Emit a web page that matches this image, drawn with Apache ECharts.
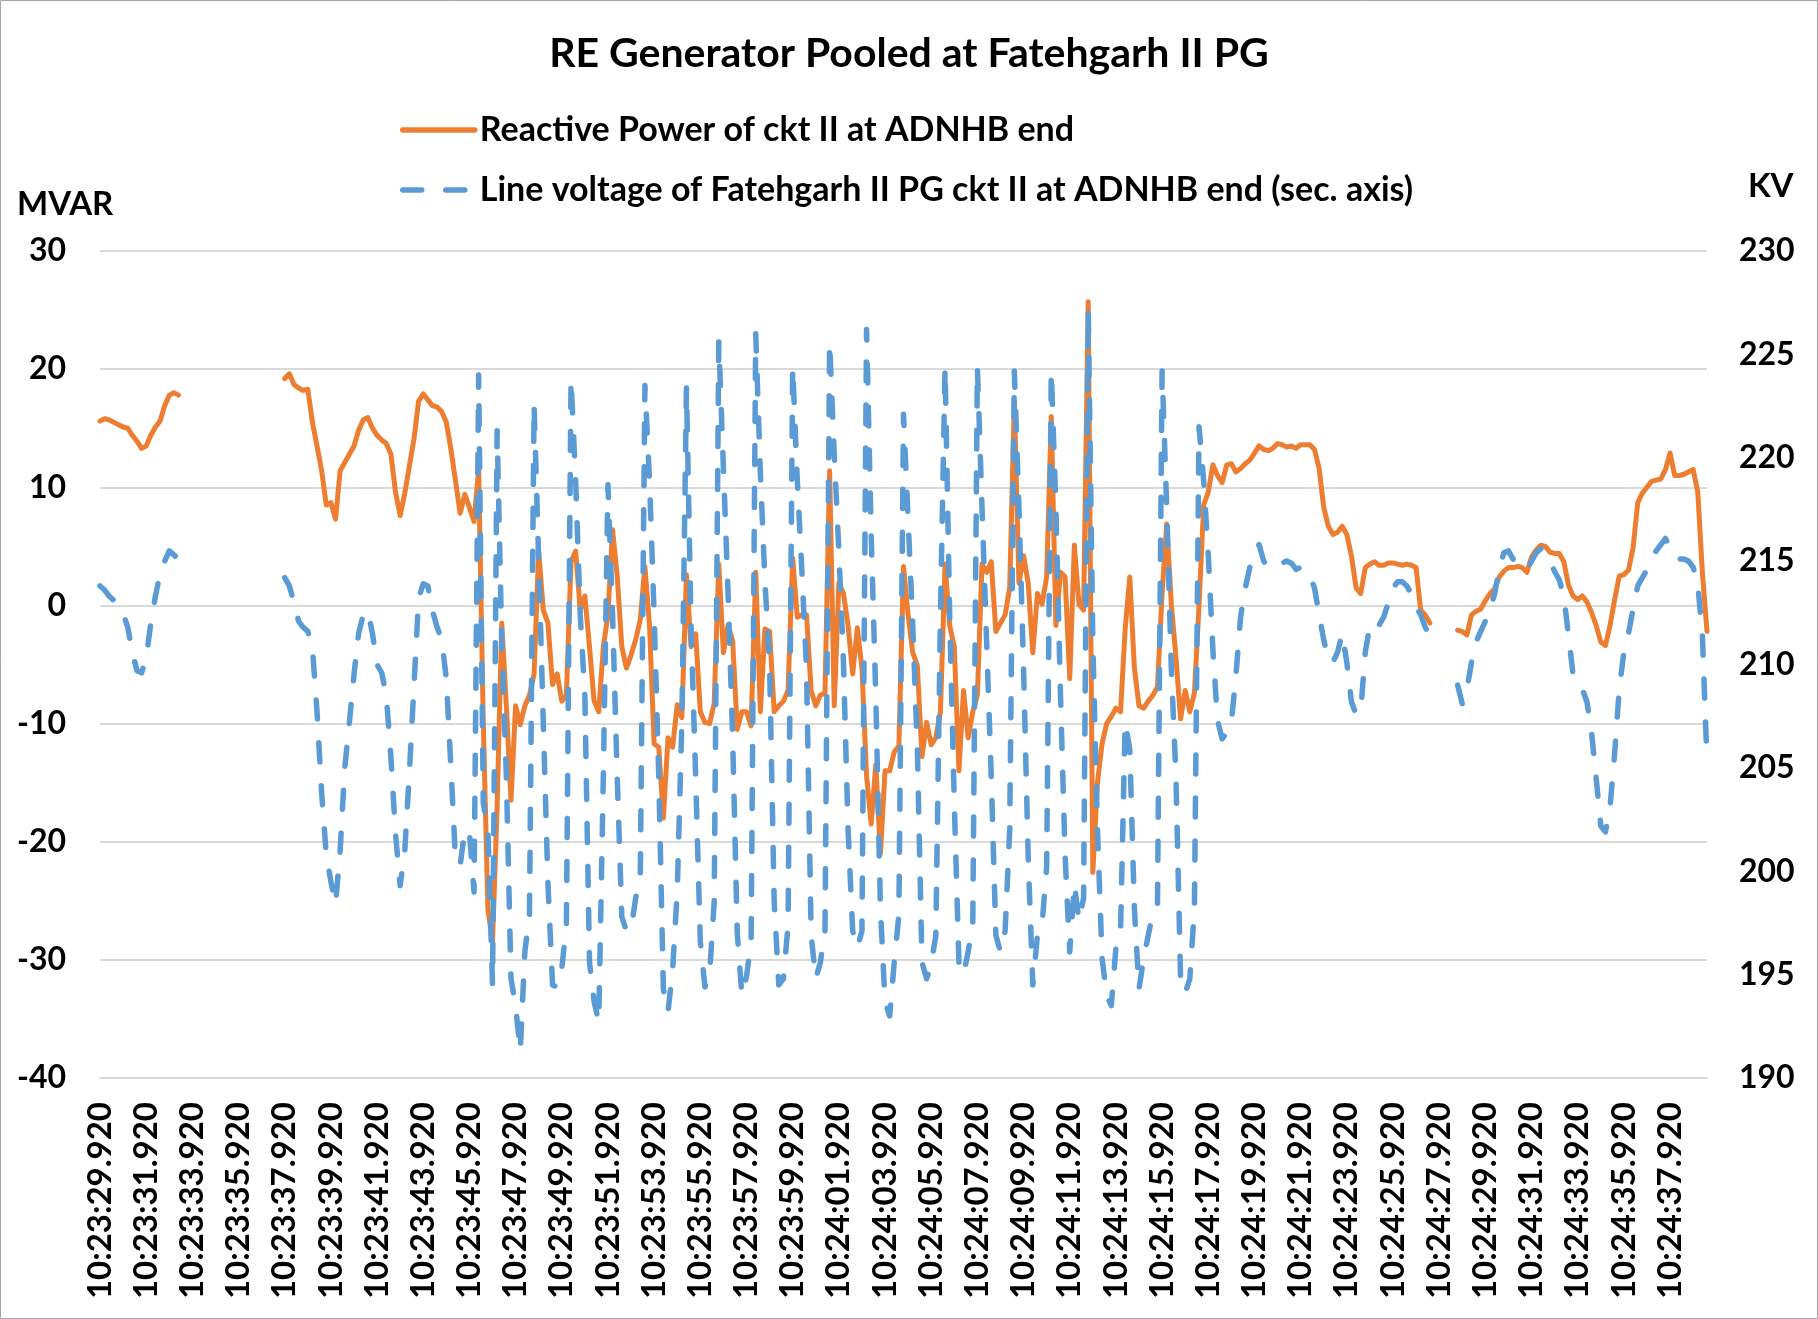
<!DOCTYPE html>
<html>
<head>
<meta charset="utf-8">
<script src="https://cdn.jsdelivr.net/npm/echarts@6/dist/echarts.min.js"></script>
<style>
html,body{margin:0;padding:0;background:#fff;}
#chart{width:1818px;height:1319px;}
</style>
</head>
<body>
<div id="chart"></div>
<script>
// ---------- DATA ----------
const titleText = 'RE Generator Pooled at Fatehgarh II PG';
const seriesNames = [
  'Reactive Power of ckt II at ADNHB end',
  'Line voltage of Fatehgarh II PG ckt II at ADNHB end (sec. axis)'
];
const leftAxisName = 'MVAR';
const rightAxisName = 'KV';
// time of first sample: 10:23:29.920, samples every 0.2 s
const startHour = 10, startMinute = 23, startMs = 29920, stepMs = 200;

// Reactive power (MVAR), left axis
const reactivePower = [
  15.6,15.8,15.7,15.5,15.3,15.1,15.0,14.4,13.9,13.3,
  13.5,14.4,15.1,15.6,16.9,17.8,18.0,17.8,null,null,
  null,null,null,null,null,null,null,null,null,null,
  null,null,null,null,null,null,null,null,null,null,
  19.2,19.6,18.7,18.4,18.2,18.3,15.5,13.5,11.4,8.5,
  8.7,7.3,11.4,12.1,12.8,13.5,14.8,15.7,15.9,15.0,
  14.4,14.0,13.7,12.8,9.6,7.6,9.5,11.8,14.1,17.3,
  17.9,17.4,16.9,16.8,16.4,15.5,13.2,10.5,7.8,9.4,
  8.3,7.1,11.5,-9.9,-25.7,-28.5,-17.0,-1.5,-8.5,-16.5,
  -8.5,-10.1,-8.5,-7.6,-5.8,4.6,-0.4,-1.5,-6.7,-5.8,
  -8.1,-7.6,3.7,4.6,-0.4,0.8,-3.5,-8.1,-9.0,-3.5,
  -0.8,6.4,2.5,-3.5,-5.3,-4.2,-2.9,-1.2,3.3,-1.7,
  -11.7,-12.0,-18.0,-11.2,-12.0,-8.4,-9.5,2.6,-3.5,-2.4,
  -9.0,-9.9,-10.0,-8.3,3.5,-4.0,-1.7,-3.0,-10.5,-9.0,
  -9.0,-10.2,2.8,-9.0,-2.0,-2.2,-9.0,-8.5,-8.1,-7.2,
  4.0,-1.0,-0.8,-0.8,-7.2,-8.5,-7.6,-7.4,11.4,-8.5,
  1.9,1.0,-1.7,-5.8,-1.9,-5.3,-14.4,-18.5,-13.5,-21.0,
  -14.0,-14.0,-12.4,-11.9,3.3,-0.8,-4.0,-5.1,-12.8,-9.9,
  -11.8,-11.2,-9.0,3.5,-1.7,-3.5,-14.0,-7.2,-11.2,-9.0,
  -7.6,3.5,2.8,3.7,-2.2,-1.5,-0.8,1.5,17.3,1.9,
  4.2,1.9,-4.0,1.0,0.1,2.4,16.0,-1.7,2.8,2.4,
  -6.2,5.1,0.1,-0.4,25.7,-22.6,-15.0,-11.7,-10.0,-9.4,
  -8.7,-9.0,-2.0,2.4,-5.3,-8.5,-8.7,-8.1,-7.6,-6.9,
  1.0,6.9,0.1,-4.4,-9.6,-7.2,-9.0,-7.4,0.0,8.5,
  9.6,11.9,11.0,10.4,11.9,12.0,11.3,11.6,12.0,12.3,
  12.9,13.5,13.2,13.1,13.3,13.7,13.6,13.4,13.5,13.3,
  13.6,13.6,13.6,13.2,11.6,8.3,6.7,6.0,6.2,6.7,
  6.0,4.2,1.5,1.0,3.2,3.5,3.7,3.4,3.4,3.6,
  3.6,3.5,3.4,3.5,3.4,3.2,-0.4,-0.8,-1.5,null,
  null,null,null,null,-2.1,-2.2,-2.5,-0.8,-0.5,-0.3,
  0.4,1.0,1.4,2.4,2.9,3.2,3.2,3.3,3.2,2.8,
  4.1,4.7,5.1,5.0,4.5,4.4,4.4,3.7,1.7,0.8,
  0.5,0.8,0.3,-0.6,-1.7,-3.1,-3.4,-1.7,0.5,2.5,
  2.6,3.0,4.9,8.7,9.5,10.0,10.5,10.6,10.7,11.5,
  12.9,11.0,11.0,11.1,11.3,11.5,9.6,2.8,-2.2
];

// Line voltage (KV), right axis
const lineVoltage = [
  213.8,213.6,213.3,213.1,212.8,212.5,211.8,210.6,209.7,209.6,
  210.3,212.0,213.3,214.4,215.0,215.5,215.3,215.1,null,null,
  null,null,null,null,null,null,null,null,null,null,
  null,null,null,null,null,null,null,null,null,null,
  214.2,213.8,213.0,212.1,211.8,211.6,210.8,207.7,203.8,200.8,
  199.5,198.4,201.0,205.0,207.2,209.5,211.5,212.4,212.6,211.5,
  210.0,209.6,208.5,205.5,201.8,199.3,201.0,204.8,209.0,213.2,
  213.9,213.8,212.6,211.8,211.2,209.3,205.0,200.5,200.3,202.0,
  201.9,199.0,224.0,203.3,202.0,194.5,221.3,211.1,204.6,194.8,
  193.5,191.3,196.1,197.9,222.6,215.0,207.2,199.4,194.5,194.4,
  195.3,197.4,223.8,218.9,212.4,208.5,195.6,193.7,192.7,204.6,
  218.7,212.4,204.6,197.8,197.1,197.2,198.7,199.7,223.5,218.9,
  212.4,204.6,194.3,193.2,195.2,199.0,207.2,223.4,211.8,204.5,
  196.6,194.4,195.0,198.5,225.6,219.5,213.5,206.5,197.0,194.0,
  194.9,196.6,226.0,219.3,214.0,210.0,198.5,194.5,194.8,197.4,
  224.4,218.9,214.5,209.8,196.9,194.8,195.6,197.1,225.6,220.2,
  215.5,210.1,202.0,197.1,196.3,197.1,226.2,216.3,208.5,198.2,
  193.7,193.0,195.6,197.9,222.1,217.0,211.9,205.9,195.6,194.8,
  195.5,196.9,212.4,224.4,212.4,203.3,195.6,195.0,196.1,197.4,
  224.4,217.6,211.1,204.6,196.9,196.1,197.1,202.0,224.2,217.6,
  209.8,200.7,194.5,196.9,197.4,200.2,224.2,217.6,208.5,200.7,
  196.1,199.4,197.6,198.7,227.2,211.1,202.0,195.8,194.0,193.5,
  196.3,197.1,207.2,205.9,198.2,194.3,195.8,196.9,198.0,198.4,
  224.2,217.6,209.8,204.6,194.8,194.1,194.8,198.2,221.5,218.9,
  215.3,210.7,207.3,206.4,206.7,207.2,209.5,212.3,213.7,214.7,
  215.4,215.8,215.0,214.7,214.7,214.9,214.9,215.0,214.9,214.6,
  214.7,214.6,214.3,213.7,212.4,211.2,210.2,210.1,210.6,211.5,
  210.1,208.2,207.6,207.7,210.6,211.9,212.1,211.9,212.3,213.0,
  213.7,214.0,214.0,213.8,213.4,212.8,212.4,211.8,211.4,null,
  null,null,null,null,209.0,208.1,208.8,210.1,211.1,211.6,
  212.1,212.7,213.4,214.6,215.4,215.5,215.1,215.0,214.9,214.6,
  215.0,215.4,215.6,215.3,215.0,214.5,214.1,213.3,211.4,209.5,
  209.1,208.8,208.2,206.7,204.5,202.2,201.9,203.1,205.7,208.8,
  210.6,211.5,212.7,213.8,214.2,214.6,215.1,215.5,215.8,216.1,
  215.6,215.2,215.1,215.1,215.0,214.7,213.9,211.4,205.3
];

// axis scales
const leftMin = -40, leftMax = 30, leftStep = 10;
const rightMin = 190, rightMax = 230, rightStep = 5;
const labelEvery = 10; // one label per 2 s

// ---------- BUILD ----------
function pad(n, w) { return String(n).padStart(w, '0'); }
const categories = reactivePower.map(function (_, i) {
  const ms = startMs + stepMs * i;
  const m = startMinute + Math.floor(ms / 60000);
  const rest = ms % 60000;
  return startHour + ':' + pad(m, 2) + ':' + pad(Math.floor(rest / 1000), 2) + '.' + pad(rest % 1000, 3);
});

const FONT = 'Lato, "Open Sans", "Liberation Sans", sans-serif';
const ORANGE = '#ED7D31', BLUE = '#5B9BD5', GRID = '#D9D9D9';

const chart = echarts.init(document.getElementById('chart'), null, { renderer: 'canvas' });
chart.setOption({
  animation: false,
  backgroundColor: '#ffffff',
  title: {
    text: titleText,
    left: 'center',
    top: 28,
    textStyle: { fontFamily: FONT, fontWeight: 'bold', fontSize: 41, color: '#000' }
  },
  legend: {
    orient: 'vertical',
    left: 395,
    top: 108,
    itemWidth: 72,
    itemHeight: 30,
    itemGap: 26,
    data: seriesNames,
    itemStyle: { opacity: 0 },
    lineStyle: { width: 5.5, cap: 'round' },
    textStyle: { fontFamily: FONT, fontWeight: 'bold', fontSize: 34, lineHeight: 34, color: '#000' }
  },
  grid: { left: 100, right: 111, top: 251, bottom: 241, containLabel: false },
  xAxis: {
    type: 'category',
    data: categories,
    boundaryGap: false,
    axisLine: { onZero: false, lineStyle: { color: GRID, width: 2 } },
    axisTick: { show: false },
    splitLine: { show: false },
    axisLabel: {
      interval: labelEvery - 1,
      rotate: 90,
      margin: 24,
      fontFamily: FONT, fontWeight: 'bold', fontSize: 33, color: '#000'
    }
  },
  yAxis: [
    {
      type: 'value', min: leftMin, max: leftMax, interval: leftStep,
      axisLine: { show: false }, axisTick: { show: false },
      splitLine: { lineStyle: { color: GRID, width: 2 } },
      axisLabel: { margin: 34, fontFamily: FONT, fontWeight: 'bold', fontSize: 32, color: '#000' }
    },
    {
      type: 'value', min: rightMin, max: rightMax, interval: rightStep,
      axisLine: { show: false }, axisTick: { show: false },
      splitLine: { show: false },
      axisLabel: { margin: 32, fontFamily: FONT, fontWeight: 'bold', fontSize: 32, color: '#000' }
    }
  ],
  series: [
    {
      name: seriesNames[0], type: 'line', data: reactivePower, yAxisIndex: 0,
      symbol: 'none', connectNulls: false, z: 2,
      itemStyle: { color: ORANGE },
      lineStyle: { color: ORANGE, width: 5, cap: 'round', join: 'round' }
    },
    {
      name: seriesNames[1], type: 'line', data: lineVoltage, yAxisIndex: 1,
      symbol: 'none', connectNulls: false, z: 3,
      itemStyle: { color: BLUE },
      lineStyle: { color: BLUE, width: 5.5, type: [19, 24], cap: 'round', join: 'round' }
    }
  ],
  graphic: [
    { type: 'text', left: 17, top: 188, style: { text: leftAxisName, font: 'bold 33px ' + FONT, fill: '#000' } },
    { type: 'text', left: 1748, top: 170, style: { text: rightAxisName, font: 'bold 33px ' + FONT, fill: '#000' } },
    { type: 'rect', silent: true, shape: { x: 0.5, y: 0.5, width: 1817, height: 1318 },
      style: { fill: 'none', stroke: '#A6A6A6', lineWidth: 1 } }
  ]
});
</script>
</body>
</html>
